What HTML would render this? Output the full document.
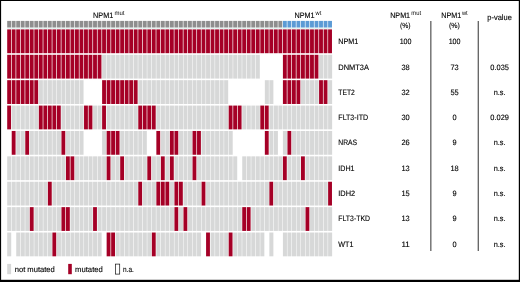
<!DOCTYPE html>
<html><head><meta charset="utf-8"><title>Mutation overview</title>
<style>html,body{margin:0;padding:0;background:#fff;overflow:hidden}body{width:520px;height:282px;position:relative}</style></head>
<body>
<svg width="520" height="282" viewBox="0 0 520 282" style="display:block;position:absolute;left:0;top:0">
<rect x="0" y="0" width="520" height="282" fill="#fff"/>
<defs><filter id="b" x="-1%" y="-1%" width="102%" height="102%"><feGaussianBlur stdDeviation="0.35 0.3"/></filter></defs>
<rect x="7.2" y="27.7" width="324.8" height="1.5" fill="#e4f4f0"/>
<g filter="url(#b)">
<rect x="7.20" y="20.9" width="3.85" height="6.6" fill="#8e8e8e"/>
<rect x="11.72" y="20.9" width="3.85" height="6.6" fill="#8e8e8e"/>
<rect x="16.24" y="20.9" width="3.85" height="6.6" fill="#8e8e8e"/>
<rect x="20.76" y="20.9" width="3.85" height="6.6" fill="#8e8e8e"/>
<rect x="25.28" y="20.9" width="3.85" height="6.6" fill="#8e8e8e"/>
<rect x="29.80" y="20.9" width="3.85" height="6.6" fill="#8e8e8e"/>
<rect x="34.32" y="20.9" width="3.85" height="6.6" fill="#8e8e8e"/>
<rect x="38.84" y="20.9" width="3.85" height="6.6" fill="#8e8e8e"/>
<rect x="43.36" y="20.9" width="3.85" height="6.6" fill="#8e8e8e"/>
<rect x="47.88" y="20.9" width="3.85" height="6.6" fill="#8e8e8e"/>
<rect x="52.40" y="20.9" width="3.85" height="6.6" fill="#8e8e8e"/>
<rect x="56.92" y="20.9" width="3.85" height="6.6" fill="#8e8e8e"/>
<rect x="61.44" y="20.9" width="3.85" height="6.6" fill="#8e8e8e"/>
<rect x="65.96" y="20.9" width="3.85" height="6.6" fill="#8e8e8e"/>
<rect x="70.48" y="20.9" width="3.85" height="6.6" fill="#8e8e8e"/>
<rect x="75.00" y="20.9" width="3.85" height="6.6" fill="#8e8e8e"/>
<rect x="79.52" y="20.9" width="3.85" height="6.6" fill="#8e8e8e"/>
<rect x="84.04" y="20.9" width="3.85" height="6.6" fill="#8e8e8e"/>
<rect x="88.56" y="20.9" width="3.85" height="6.6" fill="#8e8e8e"/>
<rect x="93.08" y="20.9" width="3.85" height="6.6" fill="#8e8e8e"/>
<rect x="97.60" y="20.9" width="3.85" height="6.6" fill="#8e8e8e"/>
<rect x="102.12" y="20.9" width="3.85" height="6.6" fill="#8e8e8e"/>
<rect x="106.64" y="20.9" width="3.85" height="6.6" fill="#8e8e8e"/>
<rect x="111.16" y="20.9" width="3.85" height="6.6" fill="#8e8e8e"/>
<rect x="115.68" y="20.9" width="3.85" height="6.6" fill="#8e8e8e"/>
<rect x="120.20" y="20.9" width="3.85" height="6.6" fill="#8e8e8e"/>
<rect x="124.72" y="20.9" width="3.85" height="6.6" fill="#8e8e8e"/>
<rect x="129.24" y="20.9" width="3.85" height="6.6" fill="#8e8e8e"/>
<rect x="133.76" y="20.9" width="3.85" height="6.6" fill="#8e8e8e"/>
<rect x="138.28" y="20.9" width="3.85" height="6.6" fill="#8e8e8e"/>
<rect x="142.80" y="20.9" width="3.85" height="6.6" fill="#8e8e8e"/>
<rect x="147.32" y="20.9" width="3.85" height="6.6" fill="#8e8e8e"/>
<rect x="151.84" y="20.9" width="3.85" height="6.6" fill="#8e8e8e"/>
<rect x="156.36" y="20.9" width="3.85" height="6.6" fill="#8e8e8e"/>
<rect x="160.88" y="20.9" width="3.85" height="6.6" fill="#8e8e8e"/>
<rect x="165.40" y="20.9" width="3.85" height="6.6" fill="#8e8e8e"/>
<rect x="169.92" y="20.9" width="3.85" height="6.6" fill="#8e8e8e"/>
<rect x="174.44" y="20.9" width="3.85" height="6.6" fill="#8e8e8e"/>
<rect x="178.96" y="20.9" width="3.85" height="6.6" fill="#8e8e8e"/>
<rect x="183.48" y="20.9" width="3.85" height="6.6" fill="#8e8e8e"/>
<rect x="188.00" y="20.9" width="3.85" height="6.6" fill="#8e8e8e"/>
<rect x="192.52" y="20.9" width="3.85" height="6.6" fill="#8e8e8e"/>
<rect x="197.04" y="20.9" width="3.85" height="6.6" fill="#8e8e8e"/>
<rect x="201.56" y="20.9" width="3.85" height="6.6" fill="#8e8e8e"/>
<rect x="206.08" y="20.9" width="3.85" height="6.6" fill="#8e8e8e"/>
<rect x="210.60" y="20.9" width="3.85" height="6.6" fill="#8e8e8e"/>
<rect x="215.12" y="20.9" width="3.85" height="6.6" fill="#8e8e8e"/>
<rect x="219.64" y="20.9" width="3.85" height="6.6" fill="#8e8e8e"/>
<rect x="224.16" y="20.9" width="3.85" height="6.6" fill="#8e8e8e"/>
<rect x="228.68" y="20.9" width="3.85" height="6.6" fill="#8e8e8e"/>
<rect x="233.20" y="20.9" width="3.85" height="6.6" fill="#8e8e8e"/>
<rect x="237.72" y="20.9" width="3.85" height="6.6" fill="#8e8e8e"/>
<rect x="242.24" y="20.9" width="3.85" height="6.6" fill="#8e8e8e"/>
<rect x="246.76" y="20.9" width="3.85" height="6.6" fill="#8e8e8e"/>
<rect x="251.28" y="20.9" width="3.85" height="6.6" fill="#8e8e8e"/>
<rect x="255.80" y="20.9" width="3.85" height="6.6" fill="#8e8e8e"/>
<rect x="260.32" y="20.9" width="3.85" height="6.6" fill="#8e8e8e"/>
<rect x="264.84" y="20.9" width="3.85" height="6.6" fill="#8e8e8e"/>
<rect x="269.36" y="20.9" width="3.85" height="6.6" fill="#8e8e8e"/>
<rect x="273.88" y="20.9" width="3.85" height="6.6" fill="#8e8e8e"/>
<rect x="278.40" y="20.9" width="3.85" height="6.6" fill="#8e8e8e"/>
<rect x="282.92" y="20.9" width="3.85" height="6.6" fill="#5b9bd5"/>
<rect x="287.44" y="20.9" width="3.85" height="6.6" fill="#5b9bd5"/>
<rect x="291.96" y="20.9" width="3.85" height="6.6" fill="#5b9bd5"/>
<rect x="296.48" y="20.9" width="3.85" height="6.6" fill="#5b9bd5"/>
<rect x="301.00" y="20.9" width="3.85" height="6.6" fill="#5b9bd5"/>
<rect x="305.52" y="20.9" width="3.85" height="6.6" fill="#5b9bd5"/>
<rect x="310.04" y="20.9" width="3.85" height="6.6" fill="#5b9bd5"/>
<rect x="314.56" y="20.9" width="3.85" height="6.6" fill="#5b9bd5"/>
<rect x="319.08" y="20.9" width="3.85" height="6.6" fill="#5b9bd5"/>
<rect x="323.60" y="20.9" width="3.85" height="6.6" fill="#5b9bd5"/>
<rect x="328.12" y="20.9" width="3.85" height="6.6" fill="#5b9bd5"/>
<rect x="7.20" y="29.40" width="3.85" height="23.8" fill="#a50026"/>
<rect x="11.72" y="29.40" width="3.85" height="23.8" fill="#a50026"/>
<rect x="16.24" y="29.40" width="3.85" height="23.8" fill="#a50026"/>
<rect x="20.76" y="29.40" width="3.85" height="23.8" fill="#a50026"/>
<rect x="25.28" y="29.40" width="3.85" height="23.8" fill="#a50026"/>
<rect x="29.80" y="29.40" width="3.85" height="23.8" fill="#a50026"/>
<rect x="34.32" y="29.40" width="3.85" height="23.8" fill="#a50026"/>
<rect x="38.84" y="29.40" width="3.85" height="23.8" fill="#a50026"/>
<rect x="43.36" y="29.40" width="3.85" height="23.8" fill="#a50026"/>
<rect x="47.88" y="29.40" width="3.85" height="23.8" fill="#a50026"/>
<rect x="52.40" y="29.40" width="3.85" height="23.8" fill="#a50026"/>
<rect x="56.92" y="29.40" width="3.85" height="23.8" fill="#a50026"/>
<rect x="61.44" y="29.40" width="3.85" height="23.8" fill="#a50026"/>
<rect x="65.96" y="29.40" width="3.85" height="23.8" fill="#a50026"/>
<rect x="70.48" y="29.40" width="3.85" height="23.8" fill="#a50026"/>
<rect x="75.00" y="29.40" width="3.85" height="23.8" fill="#a50026"/>
<rect x="79.52" y="29.40" width="3.85" height="23.8" fill="#a50026"/>
<rect x="84.04" y="29.40" width="3.85" height="23.8" fill="#a50026"/>
<rect x="88.56" y="29.40" width="3.85" height="23.8" fill="#a50026"/>
<rect x="93.08" y="29.40" width="3.85" height="23.8" fill="#a50026"/>
<rect x="97.60" y="29.40" width="3.85" height="23.8" fill="#a50026"/>
<rect x="102.12" y="29.40" width="3.85" height="23.8" fill="#a50026"/>
<rect x="106.64" y="29.40" width="3.85" height="23.8" fill="#a50026"/>
<rect x="111.16" y="29.40" width="3.85" height="23.8" fill="#a50026"/>
<rect x="115.68" y="29.40" width="3.85" height="23.8" fill="#a50026"/>
<rect x="120.20" y="29.40" width="3.85" height="23.8" fill="#a50026"/>
<rect x="124.72" y="29.40" width="3.85" height="23.8" fill="#a50026"/>
<rect x="129.24" y="29.40" width="3.85" height="23.8" fill="#a50026"/>
<rect x="133.76" y="29.40" width="3.85" height="23.8" fill="#a50026"/>
<rect x="138.28" y="29.40" width="3.85" height="23.8" fill="#a50026"/>
<rect x="142.80" y="29.40" width="3.85" height="23.8" fill="#a50026"/>
<rect x="147.32" y="29.40" width="3.85" height="23.8" fill="#a50026"/>
<rect x="151.84" y="29.40" width="3.85" height="23.8" fill="#a50026"/>
<rect x="156.36" y="29.40" width="3.85" height="23.8" fill="#a50026"/>
<rect x="160.88" y="29.40" width="3.85" height="23.8" fill="#a50026"/>
<rect x="165.40" y="29.40" width="3.85" height="23.8" fill="#a50026"/>
<rect x="169.92" y="29.40" width="3.85" height="23.8" fill="#a50026"/>
<rect x="174.44" y="29.40" width="3.85" height="23.8" fill="#a50026"/>
<rect x="178.96" y="29.40" width="3.85" height="23.8" fill="#a50026"/>
<rect x="183.48" y="29.40" width="3.85" height="23.8" fill="#a50026"/>
<rect x="188.00" y="29.40" width="3.85" height="23.8" fill="#a50026"/>
<rect x="192.52" y="29.40" width="3.85" height="23.8" fill="#a50026"/>
<rect x="197.04" y="29.40" width="3.85" height="23.8" fill="#a50026"/>
<rect x="201.56" y="29.40" width="3.85" height="23.8" fill="#a50026"/>
<rect x="206.08" y="29.40" width="3.85" height="23.8" fill="#a50026"/>
<rect x="210.60" y="29.40" width="3.85" height="23.8" fill="#a50026"/>
<rect x="215.12" y="29.40" width="3.85" height="23.8" fill="#a50026"/>
<rect x="219.64" y="29.40" width="3.85" height="23.8" fill="#a50026"/>
<rect x="224.16" y="29.40" width="3.85" height="23.8" fill="#a50026"/>
<rect x="228.68" y="29.40" width="3.85" height="23.8" fill="#a50026"/>
<rect x="233.20" y="29.40" width="3.85" height="23.8" fill="#a50026"/>
<rect x="237.72" y="29.40" width="3.85" height="23.8" fill="#a50026"/>
<rect x="242.24" y="29.40" width="3.85" height="23.8" fill="#a50026"/>
<rect x="246.76" y="29.40" width="3.85" height="23.8" fill="#a50026"/>
<rect x="251.28" y="29.40" width="3.85" height="23.8" fill="#a50026"/>
<rect x="255.80" y="29.40" width="3.85" height="23.8" fill="#a50026"/>
<rect x="260.32" y="29.40" width="3.85" height="23.8" fill="#a50026"/>
<rect x="264.84" y="29.40" width="3.85" height="23.8" fill="#a50026"/>
<rect x="269.36" y="29.40" width="3.85" height="23.8" fill="#a50026"/>
<rect x="273.88" y="29.40" width="3.85" height="23.8" fill="#a50026"/>
<rect x="278.40" y="29.40" width="3.85" height="23.8" fill="#a50026"/>
<rect x="282.92" y="29.40" width="3.85" height="23.8" fill="#a50026"/>
<rect x="287.44" y="29.40" width="3.85" height="23.8" fill="#a50026"/>
<rect x="291.96" y="29.40" width="3.85" height="23.8" fill="#a50026"/>
<rect x="296.48" y="29.40" width="3.85" height="23.8" fill="#a50026"/>
<rect x="301.00" y="29.40" width="3.85" height="23.8" fill="#a50026"/>
<rect x="305.52" y="29.40" width="3.85" height="23.8" fill="#a50026"/>
<rect x="310.04" y="29.40" width="3.85" height="23.8" fill="#a50026"/>
<rect x="314.56" y="29.40" width="3.85" height="23.8" fill="#a50026"/>
<rect x="319.08" y="29.40" width="3.85" height="23.8" fill="#a50026"/>
<rect x="323.60" y="29.40" width="3.85" height="23.8" fill="#a50026"/>
<rect x="328.12" y="29.40" width="3.85" height="23.8" fill="#a50026"/>
<rect x="7.20" y="54.79" width="3.85" height="23.8" fill="#a50026"/>
<rect x="11.72" y="54.79" width="3.85" height="23.8" fill="#a50026"/>
<rect x="16.24" y="54.79" width="3.85" height="23.8" fill="#a50026"/>
<rect x="20.76" y="54.79" width="3.85" height="23.8" fill="#a50026"/>
<rect x="25.28" y="54.79" width="3.85" height="23.8" fill="#a50026"/>
<rect x="29.80" y="54.79" width="3.85" height="23.8" fill="#a50026"/>
<rect x="34.32" y="54.79" width="3.85" height="23.8" fill="#a50026"/>
<rect x="38.84" y="54.79" width="3.85" height="23.8" fill="#a50026"/>
<rect x="43.36" y="54.79" width="3.85" height="23.8" fill="#a50026"/>
<rect x="47.88" y="54.79" width="3.85" height="23.8" fill="#a50026"/>
<rect x="52.40" y="54.79" width="3.85" height="23.8" fill="#a50026"/>
<rect x="56.92" y="54.79" width="3.85" height="23.8" fill="#a50026"/>
<rect x="61.44" y="54.79" width="3.85" height="23.8" fill="#a50026"/>
<rect x="65.96" y="54.79" width="3.85" height="23.8" fill="#a50026"/>
<rect x="70.48" y="54.79" width="3.85" height="23.8" fill="#a50026"/>
<rect x="75.00" y="54.79" width="3.85" height="23.8" fill="#a50026"/>
<rect x="79.52" y="54.79" width="3.85" height="23.8" fill="#a50026"/>
<rect x="84.04" y="54.79" width="3.85" height="23.8" fill="#a50026"/>
<rect x="88.56" y="54.79" width="3.85" height="23.8" fill="#a50026"/>
<rect x="93.08" y="54.79" width="3.85" height="23.8" fill="#a50026"/>
<rect x="97.60" y="54.79" width="3.85" height="23.8" fill="#a50026"/>
<rect x="102.12" y="54.79" width="4.02" height="23.8" fill="#d7d8d8"/>
<rect x="106.64" y="54.79" width="4.02" height="23.8" fill="#d7d8d8"/>
<rect x="111.16" y="54.79" width="4.02" height="23.8" fill="#d7d8d8"/>
<rect x="115.68" y="54.79" width="4.02" height="23.8" fill="#d7d8d8"/>
<rect x="120.20" y="54.79" width="4.02" height="23.8" fill="#d7d8d8"/>
<rect x="124.72" y="54.79" width="4.02" height="23.8" fill="#d7d8d8"/>
<rect x="129.24" y="54.79" width="4.02" height="23.8" fill="#d7d8d8"/>
<rect x="133.76" y="54.79" width="4.02" height="23.8" fill="#d7d8d8"/>
<rect x="138.28" y="54.79" width="4.02" height="23.8" fill="#d7d8d8"/>
<rect x="142.80" y="54.79" width="4.02" height="23.8" fill="#d7d8d8"/>
<rect x="147.32" y="54.79" width="4.02" height="23.8" fill="#d7d8d8"/>
<rect x="151.84" y="54.79" width="4.02" height="23.8" fill="#d7d8d8"/>
<rect x="156.36" y="54.79" width="4.02" height="23.8" fill="#d7d8d8"/>
<rect x="160.88" y="54.79" width="4.02" height="23.8" fill="#d7d8d8"/>
<rect x="165.40" y="54.79" width="4.02" height="23.8" fill="#d7d8d8"/>
<rect x="169.92" y="54.79" width="4.02" height="23.8" fill="#d7d8d8"/>
<rect x="174.44" y="54.79" width="4.02" height="23.8" fill="#d7d8d8"/>
<rect x="178.96" y="54.79" width="4.02" height="23.8" fill="#d7d8d8"/>
<rect x="183.48" y="54.79" width="4.02" height="23.8" fill="#d7d8d8"/>
<rect x="188.00" y="54.79" width="4.02" height="23.8" fill="#d7d8d8"/>
<rect x="192.52" y="54.79" width="4.02" height="23.8" fill="#d7d8d8"/>
<rect x="197.04" y="54.79" width="4.02" height="23.8" fill="#d7d8d8"/>
<rect x="201.56" y="54.79" width="4.02" height="23.8" fill="#d7d8d8"/>
<rect x="206.08" y="54.79" width="4.02" height="23.8" fill="#d7d8d8"/>
<rect x="210.60" y="54.79" width="4.02" height="23.8" fill="#d7d8d8"/>
<rect x="215.12" y="54.79" width="4.02" height="23.8" fill="#d7d8d8"/>
<rect x="219.64" y="54.79" width="4.02" height="23.8" fill="#d7d8d8"/>
<rect x="224.16" y="54.79" width="4.02" height="23.8" fill="#d7d8d8"/>
<rect x="228.68" y="54.79" width="4.02" height="23.8" fill="#d7d8d8"/>
<rect x="233.20" y="54.79" width="4.02" height="23.8" fill="#d7d8d8"/>
<rect x="237.72" y="54.79" width="4.02" height="23.8" fill="#d7d8d8"/>
<rect x="242.24" y="54.79" width="4.02" height="23.8" fill="#d7d8d8"/>
<rect x="246.76" y="54.79" width="4.02" height="23.8" fill="#d7d8d8"/>
<rect x="251.28" y="54.79" width="4.02" height="23.8" fill="#d7d8d8"/>
<rect x="255.80" y="54.79" width="4.02" height="23.8" fill="#d7d8d8"/>
<rect x="282.92" y="54.79" width="3.85" height="23.8" fill="#a50026"/>
<rect x="287.44" y="54.79" width="3.85" height="23.8" fill="#a50026"/>
<rect x="291.96" y="54.79" width="3.85" height="23.8" fill="#a50026"/>
<rect x="296.48" y="54.79" width="3.85" height="23.8" fill="#a50026"/>
<rect x="301.00" y="54.79" width="3.85" height="23.8" fill="#a50026"/>
<rect x="305.52" y="54.79" width="3.85" height="23.8" fill="#a50026"/>
<rect x="310.04" y="54.79" width="3.85" height="23.8" fill="#a50026"/>
<rect x="314.56" y="54.79" width="3.85" height="23.8" fill="#a50026"/>
<rect x="319.08" y="54.79" width="4.02" height="23.8" fill="#d7d8d8"/>
<rect x="323.60" y="54.79" width="4.02" height="23.8" fill="#d7d8d8"/>
<rect x="328.12" y="54.79" width="4.02" height="23.8" fill="#d7d8d8"/>
<rect x="7.20" y="80.18" width="3.85" height="23.8" fill="#a50026"/>
<rect x="11.72" y="80.18" width="3.85" height="23.8" fill="#a50026"/>
<rect x="16.24" y="80.18" width="3.85" height="23.8" fill="#a50026"/>
<rect x="20.76" y="80.18" width="3.85" height="23.8" fill="#a50026"/>
<rect x="25.28" y="80.18" width="3.85" height="23.8" fill="#a50026"/>
<rect x="29.80" y="80.18" width="3.85" height="23.8" fill="#a50026"/>
<rect x="34.32" y="80.18" width="3.85" height="23.8" fill="#a50026"/>
<rect x="38.84" y="80.18" width="4.02" height="23.8" fill="#d7d8d8"/>
<rect x="43.36" y="80.18" width="4.02" height="23.8" fill="#d7d8d8"/>
<rect x="47.88" y="80.18" width="4.02" height="23.8" fill="#d7d8d8"/>
<rect x="52.40" y="80.18" width="4.02" height="23.8" fill="#d7d8d8"/>
<rect x="56.92" y="80.18" width="4.02" height="23.8" fill="#d7d8d8"/>
<rect x="61.44" y="80.18" width="4.02" height="23.8" fill="#d7d8d8"/>
<rect x="65.96" y="80.18" width="4.02" height="23.8" fill="#d7d8d8"/>
<rect x="70.48" y="80.18" width="4.02" height="23.8" fill="#d7d8d8"/>
<rect x="75.00" y="80.18" width="4.02" height="23.8" fill="#d7d8d8"/>
<rect x="79.52" y="80.18" width="4.02" height="23.8" fill="#d7d8d8"/>
<rect x="102.12" y="80.18" width="3.85" height="23.8" fill="#a50026"/>
<rect x="106.64" y="80.18" width="3.85" height="23.8" fill="#a50026"/>
<rect x="111.16" y="80.18" width="3.85" height="23.8" fill="#a50026"/>
<rect x="115.68" y="80.18" width="3.85" height="23.8" fill="#a50026"/>
<rect x="120.20" y="80.18" width="3.85" height="23.8" fill="#a50026"/>
<rect x="124.72" y="80.18" width="3.85" height="23.8" fill="#a50026"/>
<rect x="129.24" y="80.18" width="3.85" height="23.8" fill="#a50026"/>
<rect x="133.76" y="80.18" width="3.85" height="23.8" fill="#a50026"/>
<rect x="138.28" y="80.18" width="4.02" height="23.8" fill="#d7d8d8"/>
<rect x="142.80" y="80.18" width="4.02" height="23.8" fill="#d7d8d8"/>
<rect x="147.32" y="80.18" width="4.02" height="23.8" fill="#d7d8d8"/>
<rect x="151.84" y="80.18" width="4.02" height="23.8" fill="#d7d8d8"/>
<rect x="156.36" y="80.18" width="4.02" height="23.8" fill="#d7d8d8"/>
<rect x="160.88" y="80.18" width="4.02" height="23.8" fill="#d7d8d8"/>
<rect x="165.40" y="80.18" width="4.02" height="23.8" fill="#d7d8d8"/>
<rect x="169.92" y="80.18" width="4.02" height="23.8" fill="#d7d8d8"/>
<rect x="174.44" y="80.18" width="4.02" height="23.8" fill="#d7d8d8"/>
<rect x="178.96" y="80.18" width="4.02" height="23.8" fill="#d7d8d8"/>
<rect x="183.48" y="80.18" width="4.02" height="23.8" fill="#d7d8d8"/>
<rect x="188.00" y="80.18" width="4.02" height="23.8" fill="#d7d8d8"/>
<rect x="192.52" y="80.18" width="4.02" height="23.8" fill="#d7d8d8"/>
<rect x="197.04" y="80.18" width="4.02" height="23.8" fill="#d7d8d8"/>
<rect x="201.56" y="80.18" width="4.02" height="23.8" fill="#d7d8d8"/>
<rect x="206.08" y="80.18" width="4.02" height="23.8" fill="#d7d8d8"/>
<rect x="210.60" y="80.18" width="4.02" height="23.8" fill="#d7d8d8"/>
<rect x="215.12" y="80.18" width="4.02" height="23.8" fill="#d7d8d8"/>
<rect x="219.64" y="80.18" width="4.02" height="23.8" fill="#d7d8d8"/>
<rect x="224.16" y="80.18" width="4.02" height="23.8" fill="#d7d8d8"/>
<rect x="264.84" y="80.18" width="4.02" height="23.8" fill="#d7d8d8"/>
<rect x="269.36" y="80.18" width="4.02" height="23.8" fill="#d7d8d8"/>
<rect x="282.92" y="80.18" width="3.85" height="23.8" fill="#a50026"/>
<rect x="287.44" y="80.18" width="3.85" height="23.8" fill="#a50026"/>
<rect x="291.96" y="80.18" width="3.85" height="23.8" fill="#a50026"/>
<rect x="296.48" y="80.18" width="3.85" height="23.8" fill="#a50026"/>
<rect x="301.00" y="80.18" width="4.02" height="23.8" fill="#d7d8d8"/>
<rect x="305.52" y="80.18" width="4.02" height="23.8" fill="#d7d8d8"/>
<rect x="310.04" y="80.18" width="4.02" height="23.8" fill="#d7d8d8"/>
<rect x="314.56" y="80.18" width="4.02" height="23.8" fill="#d7d8d8"/>
<rect x="319.08" y="80.18" width="3.85" height="23.8" fill="#a50026"/>
<rect x="323.60" y="80.18" width="3.85" height="23.8" fill="#a50026"/>
<rect x="328.12" y="80.18" width="4.02" height="23.8" fill="#d7d8d8"/>
<rect x="7.20" y="105.57" width="3.85" height="23.8" fill="#a50026"/>
<rect x="11.72" y="105.57" width="4.02" height="23.8" fill="#d7d8d8"/>
<rect x="16.24" y="105.57" width="4.02" height="23.8" fill="#d7d8d8"/>
<rect x="20.76" y="105.57" width="4.02" height="23.8" fill="#d7d8d8"/>
<rect x="25.28" y="105.57" width="4.02" height="23.8" fill="#d7d8d8"/>
<rect x="29.80" y="105.57" width="4.02" height="23.8" fill="#d7d8d8"/>
<rect x="34.32" y="105.57" width="4.02" height="23.8" fill="#d7d8d8"/>
<rect x="38.84" y="105.57" width="3.85" height="23.8" fill="#a50026"/>
<rect x="43.36" y="105.57" width="3.85" height="23.8" fill="#a50026"/>
<rect x="47.88" y="105.57" width="3.85" height="23.8" fill="#a50026"/>
<rect x="52.40" y="105.57" width="3.85" height="23.8" fill="#a50026"/>
<rect x="56.92" y="105.57" width="3.85" height="23.8" fill="#a50026"/>
<rect x="61.44" y="105.57" width="4.02" height="23.8" fill="#d7d8d8"/>
<rect x="65.96" y="105.57" width="4.02" height="23.8" fill="#d7d8d8"/>
<rect x="70.48" y="105.57" width="4.02" height="23.8" fill="#d7d8d8"/>
<rect x="75.00" y="105.57" width="4.02" height="23.8" fill="#d7d8d8"/>
<rect x="79.52" y="105.57" width="4.02" height="23.8" fill="#d7d8d8"/>
<rect x="84.04" y="105.57" width="3.85" height="23.8" fill="#a50026"/>
<rect x="88.56" y="105.57" width="3.85" height="23.8" fill="#a50026"/>
<rect x="93.08" y="105.57" width="4.02" height="23.8" fill="#d7d8d8"/>
<rect x="97.60" y="105.57" width="4.02" height="23.8" fill="#d7d8d8"/>
<rect x="102.12" y="105.57" width="3.85" height="23.8" fill="#a50026"/>
<rect x="106.64" y="105.57" width="4.02" height="23.8" fill="#d7d8d8"/>
<rect x="111.16" y="105.57" width="4.02" height="23.8" fill="#d7d8d8"/>
<rect x="115.68" y="105.57" width="4.02" height="23.8" fill="#d7d8d8"/>
<rect x="120.20" y="105.57" width="4.02" height="23.8" fill="#d7d8d8"/>
<rect x="124.72" y="105.57" width="4.02" height="23.8" fill="#d7d8d8"/>
<rect x="129.24" y="105.57" width="4.02" height="23.8" fill="#d7d8d8"/>
<rect x="133.76" y="105.57" width="4.02" height="23.8" fill="#d7d8d8"/>
<rect x="138.28" y="105.57" width="3.85" height="23.8" fill="#a50026"/>
<rect x="142.80" y="105.57" width="3.85" height="23.8" fill="#a50026"/>
<rect x="147.32" y="105.57" width="3.85" height="23.8" fill="#a50026"/>
<rect x="151.84" y="105.57" width="3.85" height="23.8" fill="#a50026"/>
<rect x="156.36" y="105.57" width="4.02" height="23.8" fill="#d7d8d8"/>
<rect x="160.88" y="105.57" width="4.02" height="23.8" fill="#d7d8d8"/>
<rect x="165.40" y="105.57" width="4.02" height="23.8" fill="#d7d8d8"/>
<rect x="169.92" y="105.57" width="4.02" height="23.8" fill="#d7d8d8"/>
<rect x="174.44" y="105.57" width="4.02" height="23.8" fill="#d7d8d8"/>
<rect x="178.96" y="105.57" width="4.02" height="23.8" fill="#d7d8d8"/>
<rect x="183.48" y="105.57" width="4.02" height="23.8" fill="#d7d8d8"/>
<rect x="188.00" y="105.57" width="4.02" height="23.8" fill="#d7d8d8"/>
<rect x="192.52" y="105.57" width="4.02" height="23.8" fill="#d7d8d8"/>
<rect x="197.04" y="105.57" width="4.02" height="23.8" fill="#d7d8d8"/>
<rect x="201.56" y="105.57" width="4.02" height="23.8" fill="#d7d8d8"/>
<rect x="206.08" y="105.57" width="4.02" height="23.8" fill="#d7d8d8"/>
<rect x="210.60" y="105.57" width="4.02" height="23.8" fill="#d7d8d8"/>
<rect x="215.12" y="105.57" width="4.02" height="23.8" fill="#d7d8d8"/>
<rect x="219.64" y="105.57" width="4.02" height="23.8" fill="#d7d8d8"/>
<rect x="224.16" y="105.57" width="4.02" height="23.8" fill="#d7d8d8"/>
<rect x="228.68" y="105.57" width="3.85" height="23.8" fill="#a50026"/>
<rect x="233.20" y="105.57" width="3.85" height="23.8" fill="#a50026"/>
<rect x="237.72" y="105.57" width="3.85" height="23.8" fill="#a50026"/>
<rect x="242.24" y="105.57" width="4.02" height="23.8" fill="#d7d8d8"/>
<rect x="246.76" y="105.57" width="4.02" height="23.8" fill="#d7d8d8"/>
<rect x="251.28" y="105.57" width="4.02" height="23.8" fill="#d7d8d8"/>
<rect x="255.80" y="105.57" width="4.02" height="23.8" fill="#d7d8d8"/>
<rect x="260.32" y="105.57" width="3.85" height="23.8" fill="#a50026"/>
<rect x="264.84" y="105.57" width="3.85" height="23.8" fill="#a50026"/>
<rect x="269.36" y="105.57" width="4.02" height="23.8" fill="#d7d8d8"/>
<rect x="273.88" y="105.57" width="4.02" height="23.8" fill="#d7d8d8"/>
<rect x="278.40" y="105.57" width="4.02" height="23.8" fill="#d7d8d8"/>
<rect x="282.92" y="105.57" width="4.02" height="23.8" fill="#d7d8d8"/>
<rect x="287.44" y="105.57" width="4.02" height="23.8" fill="#d7d8d8"/>
<rect x="291.96" y="105.57" width="4.02" height="23.8" fill="#d7d8d8"/>
<rect x="296.48" y="105.57" width="4.02" height="23.8" fill="#d7d8d8"/>
<rect x="301.00" y="105.57" width="4.02" height="23.8" fill="#d7d8d8"/>
<rect x="305.52" y="105.57" width="4.02" height="23.8" fill="#d7d8d8"/>
<rect x="310.04" y="105.57" width="4.02" height="23.8" fill="#d7d8d8"/>
<rect x="314.56" y="105.57" width="4.02" height="23.8" fill="#d7d8d8"/>
<rect x="319.08" y="105.57" width="4.02" height="23.8" fill="#d7d8d8"/>
<rect x="323.60" y="105.57" width="4.02" height="23.8" fill="#d7d8d8"/>
<rect x="328.12" y="105.57" width="4.02" height="23.8" fill="#d7d8d8"/>
<rect x="11.72" y="130.96" width="3.85" height="23.8" fill="#a50026"/>
<rect x="16.24" y="130.96" width="4.02" height="23.8" fill="#d7d8d8"/>
<rect x="20.76" y="130.96" width="4.02" height="23.8" fill="#d7d8d8"/>
<rect x="25.28" y="130.96" width="3.85" height="23.8" fill="#a50026"/>
<rect x="29.80" y="130.96" width="4.02" height="23.8" fill="#d7d8d8"/>
<rect x="34.32" y="130.96" width="4.02" height="23.8" fill="#d7d8d8"/>
<rect x="38.84" y="130.96" width="4.02" height="23.8" fill="#d7d8d8"/>
<rect x="43.36" y="130.96" width="4.02" height="23.8" fill="#d7d8d8"/>
<rect x="47.88" y="130.96" width="4.02" height="23.8" fill="#d7d8d8"/>
<rect x="52.40" y="130.96" width="4.02" height="23.8" fill="#d7d8d8"/>
<rect x="56.92" y="130.96" width="4.02" height="23.8" fill="#d7d8d8"/>
<rect x="61.44" y="130.96" width="3.85" height="23.8" fill="#a50026"/>
<rect x="65.96" y="130.96" width="4.02" height="23.8" fill="#d7d8d8"/>
<rect x="70.48" y="130.96" width="4.02" height="23.8" fill="#d7d8d8"/>
<rect x="75.00" y="130.96" width="4.02" height="23.8" fill="#d7d8d8"/>
<rect x="79.52" y="130.96" width="4.02" height="23.8" fill="#d7d8d8"/>
<rect x="102.12" y="130.96" width="4.02" height="23.8" fill="#d7d8d8"/>
<rect x="106.64" y="130.96" width="3.85" height="23.8" fill="#a50026"/>
<rect x="111.16" y="130.96" width="3.85" height="23.8" fill="#a50026"/>
<rect x="115.68" y="130.96" width="3.85" height="23.8" fill="#a50026"/>
<rect x="120.20" y="130.96" width="4.02" height="23.8" fill="#d7d8d8"/>
<rect x="124.72" y="130.96" width="4.02" height="23.8" fill="#d7d8d8"/>
<rect x="129.24" y="130.96" width="4.02" height="23.8" fill="#d7d8d8"/>
<rect x="133.76" y="130.96" width="4.02" height="23.8" fill="#d7d8d8"/>
<rect x="138.28" y="130.96" width="4.02" height="23.8" fill="#d7d8d8"/>
<rect x="142.80" y="130.96" width="4.02" height="23.8" fill="#d7d8d8"/>
<rect x="156.36" y="130.96" width="3.85" height="23.8" fill="#a50026"/>
<rect x="160.88" y="130.96" width="4.02" height="23.8" fill="#d7d8d8"/>
<rect x="165.40" y="130.96" width="4.02" height="23.8" fill="#d7d8d8"/>
<rect x="169.92" y="130.96" width="3.85" height="23.8" fill="#a50026"/>
<rect x="174.44" y="130.96" width="3.85" height="23.8" fill="#a50026"/>
<rect x="178.96" y="130.96" width="4.02" height="23.8" fill="#d7d8d8"/>
<rect x="183.48" y="130.96" width="4.02" height="23.8" fill="#d7d8d8"/>
<rect x="188.00" y="130.96" width="4.02" height="23.8" fill="#d7d8d8"/>
<rect x="192.52" y="130.96" width="3.85" height="23.8" fill="#a50026"/>
<rect x="197.04" y="130.96" width="3.85" height="23.8" fill="#a50026"/>
<rect x="201.56" y="130.96" width="4.02" height="23.8" fill="#d7d8d8"/>
<rect x="206.08" y="130.96" width="4.02" height="23.8" fill="#d7d8d8"/>
<rect x="210.60" y="130.96" width="4.02" height="23.8" fill="#d7d8d8"/>
<rect x="215.12" y="130.96" width="4.02" height="23.8" fill="#d7d8d8"/>
<rect x="219.64" y="130.96" width="4.02" height="23.8" fill="#d7d8d8"/>
<rect x="224.16" y="130.96" width="4.02" height="23.8" fill="#d7d8d8"/>
<rect x="228.68" y="130.96" width="4.02" height="23.8" fill="#d7d8d8"/>
<rect x="264.84" y="130.96" width="3.85" height="23.8" fill="#a50026"/>
<rect x="269.36" y="130.96" width="4.02" height="23.8" fill="#d7d8d8"/>
<rect x="273.88" y="130.96" width="4.02" height="23.8" fill="#d7d8d8"/>
<rect x="282.92" y="130.96" width="4.02" height="23.8" fill="#d7d8d8"/>
<rect x="287.44" y="130.96" width="3.85" height="23.8" fill="#a50026"/>
<rect x="291.96" y="130.96" width="4.02" height="23.8" fill="#d7d8d8"/>
<rect x="296.48" y="130.96" width="4.02" height="23.8" fill="#d7d8d8"/>
<rect x="301.00" y="130.96" width="4.02" height="23.8" fill="#d7d8d8"/>
<rect x="305.52" y="130.96" width="4.02" height="23.8" fill="#d7d8d8"/>
<rect x="310.04" y="130.96" width="4.02" height="23.8" fill="#d7d8d8"/>
<rect x="314.56" y="130.96" width="4.02" height="23.8" fill="#d7d8d8"/>
<rect x="319.08" y="130.96" width="4.02" height="23.8" fill="#d7d8d8"/>
<rect x="323.60" y="130.96" width="4.02" height="23.8" fill="#d7d8d8"/>
<rect x="328.12" y="130.96" width="4.02" height="23.8" fill="#d7d8d8"/>
<rect x="7.20" y="156.35" width="4.02" height="23.8" fill="#d7d8d8"/>
<rect x="11.72" y="156.35" width="4.02" height="23.8" fill="#d7d8d8"/>
<rect x="16.24" y="156.35" width="4.02" height="23.8" fill="#d7d8d8"/>
<rect x="20.76" y="156.35" width="4.02" height="23.8" fill="#d7d8d8"/>
<rect x="25.28" y="156.35" width="4.02" height="23.8" fill="#d7d8d8"/>
<rect x="29.80" y="156.35" width="4.02" height="23.8" fill="#d7d8d8"/>
<rect x="34.32" y="156.35" width="4.02" height="23.8" fill="#d7d8d8"/>
<rect x="38.84" y="156.35" width="4.02" height="23.8" fill="#d7d8d8"/>
<rect x="43.36" y="156.35" width="4.02" height="23.8" fill="#d7d8d8"/>
<rect x="47.88" y="156.35" width="4.02" height="23.8" fill="#d7d8d8"/>
<rect x="52.40" y="156.35" width="4.02" height="23.8" fill="#d7d8d8"/>
<rect x="56.92" y="156.35" width="4.02" height="23.8" fill="#d7d8d8"/>
<rect x="61.44" y="156.35" width="4.02" height="23.8" fill="#d7d8d8"/>
<rect x="65.96" y="156.35" width="3.85" height="23.8" fill="#a50026"/>
<rect x="70.48" y="156.35" width="3.85" height="23.8" fill="#a50026"/>
<rect x="75.00" y="156.35" width="4.02" height="23.8" fill="#d7d8d8"/>
<rect x="79.52" y="156.35" width="4.02" height="23.8" fill="#d7d8d8"/>
<rect x="84.04" y="156.35" width="4.02" height="23.8" fill="#d7d8d8"/>
<rect x="88.56" y="156.35" width="4.02" height="23.8" fill="#d7d8d8"/>
<rect x="93.08" y="156.35" width="4.02" height="23.8" fill="#d7d8d8"/>
<rect x="97.60" y="156.35" width="4.02" height="23.8" fill="#d7d8d8"/>
<rect x="102.12" y="156.35" width="4.02" height="23.8" fill="#d7d8d8"/>
<rect x="106.64" y="156.35" width="3.85" height="23.8" fill="#a50026"/>
<rect x="111.16" y="156.35" width="4.02" height="23.8" fill="#d7d8d8"/>
<rect x="115.68" y="156.35" width="4.02" height="23.8" fill="#d7d8d8"/>
<rect x="120.20" y="156.35" width="3.85" height="23.8" fill="#a50026"/>
<rect x="124.72" y="156.35" width="4.02" height="23.8" fill="#d7d8d8"/>
<rect x="129.24" y="156.35" width="4.02" height="23.8" fill="#d7d8d8"/>
<rect x="133.76" y="156.35" width="4.02" height="23.8" fill="#d7d8d8"/>
<rect x="138.28" y="156.35" width="4.02" height="23.8" fill="#d7d8d8"/>
<rect x="142.80" y="156.35" width="4.02" height="23.8" fill="#d7d8d8"/>
<rect x="147.32" y="156.35" width="3.85" height="23.8" fill="#a50026"/>
<rect x="151.84" y="156.35" width="4.02" height="23.8" fill="#d7d8d8"/>
<rect x="156.36" y="156.35" width="4.02" height="23.8" fill="#d7d8d8"/>
<rect x="160.88" y="156.35" width="3.85" height="23.8" fill="#a50026"/>
<rect x="165.40" y="156.35" width="4.02" height="23.8" fill="#d7d8d8"/>
<rect x="169.92" y="156.35" width="3.85" height="23.8" fill="#a50026"/>
<rect x="174.44" y="156.35" width="4.02" height="23.8" fill="#d7d8d8"/>
<rect x="178.96" y="156.35" width="4.02" height="23.8" fill="#d7d8d8"/>
<rect x="183.48" y="156.35" width="4.02" height="23.8" fill="#d7d8d8"/>
<rect x="188.00" y="156.35" width="4.02" height="23.8" fill="#d7d8d8"/>
<rect x="192.52" y="156.35" width="3.85" height="23.8" fill="#a50026"/>
<rect x="197.04" y="156.35" width="4.02" height="23.8" fill="#d7d8d8"/>
<rect x="201.56" y="156.35" width="4.02" height="23.8" fill="#d7d8d8"/>
<rect x="206.08" y="156.35" width="4.02" height="23.8" fill="#d7d8d8"/>
<rect x="210.60" y="156.35" width="4.02" height="23.8" fill="#d7d8d8"/>
<rect x="215.12" y="156.35" width="4.02" height="23.8" fill="#d7d8d8"/>
<rect x="219.64" y="156.35" width="4.02" height="23.8" fill="#d7d8d8"/>
<rect x="224.16" y="156.35" width="4.02" height="23.8" fill="#d7d8d8"/>
<rect x="228.68" y="156.35" width="4.02" height="23.8" fill="#d7d8d8"/>
<rect x="233.20" y="156.35" width="4.02" height="23.8" fill="#d7d8d8"/>
<rect x="242.24" y="156.35" width="4.02" height="23.8" fill="#d7d8d8"/>
<rect x="246.76" y="156.35" width="4.02" height="23.8" fill="#d7d8d8"/>
<rect x="251.28" y="156.35" width="4.02" height="23.8" fill="#d7d8d8"/>
<rect x="255.80" y="156.35" width="4.02" height="23.8" fill="#d7d8d8"/>
<rect x="260.32" y="156.35" width="4.02" height="23.8" fill="#d7d8d8"/>
<rect x="264.84" y="156.35" width="4.02" height="23.8" fill="#d7d8d8"/>
<rect x="269.36" y="156.35" width="4.02" height="23.8" fill="#d7d8d8"/>
<rect x="273.88" y="156.35" width="4.02" height="23.8" fill="#d7d8d8"/>
<rect x="278.40" y="156.35" width="4.02" height="23.8" fill="#d7d8d8"/>
<rect x="282.92" y="156.35" width="3.85" height="23.8" fill="#a50026"/>
<rect x="287.44" y="156.35" width="4.02" height="23.8" fill="#d7d8d8"/>
<rect x="291.96" y="156.35" width="4.02" height="23.8" fill="#d7d8d8"/>
<rect x="296.48" y="156.35" width="4.02" height="23.8" fill="#d7d8d8"/>
<rect x="301.00" y="156.35" width="3.85" height="23.8" fill="#a50026"/>
<rect x="305.52" y="156.35" width="4.02" height="23.8" fill="#d7d8d8"/>
<rect x="310.04" y="156.35" width="4.02" height="23.8" fill="#d7d8d8"/>
<rect x="314.56" y="156.35" width="4.02" height="23.8" fill="#d7d8d8"/>
<rect x="319.08" y="156.35" width="4.02" height="23.8" fill="#d7d8d8"/>
<rect x="323.60" y="156.35" width="4.02" height="23.8" fill="#d7d8d8"/>
<rect x="328.12" y="156.35" width="4.02" height="23.8" fill="#d7d8d8"/>
<rect x="7.20" y="181.74" width="4.02" height="23.8" fill="#d7d8d8"/>
<rect x="11.72" y="181.74" width="4.02" height="23.8" fill="#d7d8d8"/>
<rect x="16.24" y="181.74" width="4.02" height="23.8" fill="#d7d8d8"/>
<rect x="20.76" y="181.74" width="4.02" height="23.8" fill="#d7d8d8"/>
<rect x="25.28" y="181.74" width="4.02" height="23.8" fill="#d7d8d8"/>
<rect x="29.80" y="181.74" width="4.02" height="23.8" fill="#d7d8d8"/>
<rect x="34.32" y="181.74" width="4.02" height="23.8" fill="#d7d8d8"/>
<rect x="38.84" y="181.74" width="4.02" height="23.8" fill="#d7d8d8"/>
<rect x="43.36" y="181.74" width="4.02" height="23.8" fill="#d7d8d8"/>
<rect x="47.88" y="181.74" width="3.85" height="23.8" fill="#a50026"/>
<rect x="52.40" y="181.74" width="4.02" height="23.8" fill="#d7d8d8"/>
<rect x="56.92" y="181.74" width="4.02" height="23.8" fill="#d7d8d8"/>
<rect x="61.44" y="181.74" width="4.02" height="23.8" fill="#d7d8d8"/>
<rect x="65.96" y="181.74" width="4.02" height="23.8" fill="#d7d8d8"/>
<rect x="70.48" y="181.74" width="4.02" height="23.8" fill="#d7d8d8"/>
<rect x="75.00" y="181.74" width="4.02" height="23.8" fill="#d7d8d8"/>
<rect x="79.52" y="181.74" width="4.02" height="23.8" fill="#d7d8d8"/>
<rect x="84.04" y="181.74" width="4.02" height="23.8" fill="#d7d8d8"/>
<rect x="88.56" y="181.74" width="4.02" height="23.8" fill="#d7d8d8"/>
<rect x="93.08" y="181.74" width="4.02" height="23.8" fill="#d7d8d8"/>
<rect x="97.60" y="181.74" width="4.02" height="23.8" fill="#d7d8d8"/>
<rect x="102.12" y="181.74" width="4.02" height="23.8" fill="#d7d8d8"/>
<rect x="106.64" y="181.74" width="4.02" height="23.8" fill="#d7d8d8"/>
<rect x="111.16" y="181.74" width="4.02" height="23.8" fill="#d7d8d8"/>
<rect x="115.68" y="181.74" width="4.02" height="23.8" fill="#d7d8d8"/>
<rect x="120.20" y="181.74" width="4.02" height="23.8" fill="#d7d8d8"/>
<rect x="124.72" y="181.74" width="4.02" height="23.8" fill="#d7d8d8"/>
<rect x="129.24" y="181.74" width="4.02" height="23.8" fill="#d7d8d8"/>
<rect x="133.76" y="181.74" width="4.02" height="23.8" fill="#d7d8d8"/>
<rect x="138.28" y="181.74" width="3.85" height="23.8" fill="#a50026"/>
<rect x="142.80" y="181.74" width="4.02" height="23.8" fill="#d7d8d8"/>
<rect x="147.32" y="181.74" width="4.02" height="23.8" fill="#d7d8d8"/>
<rect x="151.84" y="181.74" width="4.02" height="23.8" fill="#d7d8d8"/>
<rect x="156.36" y="181.74" width="3.85" height="23.8" fill="#a50026"/>
<rect x="160.88" y="181.74" width="3.85" height="23.8" fill="#a50026"/>
<rect x="165.40" y="181.74" width="3.85" height="23.8" fill="#a50026"/>
<rect x="169.92" y="181.74" width="4.02" height="23.8" fill="#d7d8d8"/>
<rect x="174.44" y="181.74" width="3.85" height="23.8" fill="#a50026"/>
<rect x="178.96" y="181.74" width="3.85" height="23.8" fill="#a50026"/>
<rect x="183.48" y="181.74" width="4.02" height="23.8" fill="#d7d8d8"/>
<rect x="188.00" y="181.74" width="4.02" height="23.8" fill="#d7d8d8"/>
<rect x="192.52" y="181.74" width="4.02" height="23.8" fill="#d7d8d8"/>
<rect x="197.04" y="181.74" width="4.02" height="23.8" fill="#d7d8d8"/>
<rect x="201.56" y="181.74" width="3.85" height="23.8" fill="#a50026"/>
<rect x="206.08" y="181.74" width="4.02" height="23.8" fill="#d7d8d8"/>
<rect x="210.60" y="181.74" width="4.02" height="23.8" fill="#d7d8d8"/>
<rect x="215.12" y="181.74" width="4.02" height="23.8" fill="#d7d8d8"/>
<rect x="219.64" y="181.74" width="4.02" height="23.8" fill="#d7d8d8"/>
<rect x="224.16" y="181.74" width="4.02" height="23.8" fill="#d7d8d8"/>
<rect x="228.68" y="181.74" width="4.02" height="23.8" fill="#d7d8d8"/>
<rect x="233.20" y="181.74" width="4.02" height="23.8" fill="#d7d8d8"/>
<rect x="237.72" y="181.74" width="4.02" height="23.8" fill="#d7d8d8"/>
<rect x="242.24" y="181.74" width="4.02" height="23.8" fill="#d7d8d8"/>
<rect x="246.76" y="181.74" width="4.02" height="23.8" fill="#d7d8d8"/>
<rect x="251.28" y="181.74" width="4.02" height="23.8" fill="#d7d8d8"/>
<rect x="255.80" y="181.74" width="4.02" height="23.8" fill="#d7d8d8"/>
<rect x="260.32" y="181.74" width="4.02" height="23.8" fill="#d7d8d8"/>
<rect x="264.84" y="181.74" width="4.02" height="23.8" fill="#d7d8d8"/>
<rect x="269.36" y="181.74" width="3.85" height="23.8" fill="#a50026"/>
<rect x="273.88" y="181.74" width="4.02" height="23.8" fill="#d7d8d8"/>
<rect x="278.40" y="181.74" width="4.02" height="23.8" fill="#d7d8d8"/>
<rect x="282.92" y="181.74" width="4.02" height="23.8" fill="#d7d8d8"/>
<rect x="287.44" y="181.74" width="4.02" height="23.8" fill="#d7d8d8"/>
<rect x="291.96" y="181.74" width="4.02" height="23.8" fill="#d7d8d8"/>
<rect x="296.48" y="181.74" width="4.02" height="23.8" fill="#d7d8d8"/>
<rect x="301.00" y="181.74" width="4.02" height="23.8" fill="#d7d8d8"/>
<rect x="305.52" y="181.74" width="4.02" height="23.8" fill="#d7d8d8"/>
<rect x="310.04" y="181.74" width="4.02" height="23.8" fill="#d7d8d8"/>
<rect x="314.56" y="181.74" width="4.02" height="23.8" fill="#d7d8d8"/>
<rect x="319.08" y="181.74" width="4.02" height="23.8" fill="#d7d8d8"/>
<rect x="323.60" y="181.74" width="4.02" height="23.8" fill="#d7d8d8"/>
<rect x="328.12" y="181.74" width="3.85" height="23.8" fill="#a50026"/>
<rect x="7.20" y="207.13" width="4.02" height="23.8" fill="#d7d8d8"/>
<rect x="11.72" y="207.13" width="4.02" height="23.8" fill="#d7d8d8"/>
<rect x="16.24" y="207.13" width="4.02" height="23.8" fill="#d7d8d8"/>
<rect x="20.76" y="207.13" width="4.02" height="23.8" fill="#d7d8d8"/>
<rect x="25.28" y="207.13" width="4.02" height="23.8" fill="#d7d8d8"/>
<rect x="29.80" y="207.13" width="3.85" height="23.8" fill="#a50026"/>
<rect x="34.32" y="207.13" width="4.02" height="23.8" fill="#d7d8d8"/>
<rect x="38.84" y="207.13" width="4.02" height="23.8" fill="#d7d8d8"/>
<rect x="43.36" y="207.13" width="4.02" height="23.8" fill="#d7d8d8"/>
<rect x="47.88" y="207.13" width="4.02" height="23.8" fill="#d7d8d8"/>
<rect x="52.40" y="207.13" width="4.02" height="23.8" fill="#d7d8d8"/>
<rect x="56.92" y="207.13" width="4.02" height="23.8" fill="#d7d8d8"/>
<rect x="61.44" y="207.13" width="3.85" height="23.8" fill="#a50026"/>
<rect x="65.96" y="207.13" width="3.85" height="23.8" fill="#a50026"/>
<rect x="70.48" y="207.13" width="4.02" height="23.8" fill="#d7d8d8"/>
<rect x="75.00" y="207.13" width="4.02" height="23.8" fill="#d7d8d8"/>
<rect x="79.52" y="207.13" width="4.02" height="23.8" fill="#d7d8d8"/>
<rect x="84.04" y="207.13" width="4.02" height="23.8" fill="#d7d8d8"/>
<rect x="88.56" y="207.13" width="4.02" height="23.8" fill="#d7d8d8"/>
<rect x="93.08" y="207.13" width="3.85" height="23.8" fill="#a50026"/>
<rect x="97.60" y="207.13" width="4.02" height="23.8" fill="#d7d8d8"/>
<rect x="102.12" y="207.13" width="4.02" height="23.8" fill="#d7d8d8"/>
<rect x="106.64" y="207.13" width="4.02" height="23.8" fill="#d7d8d8"/>
<rect x="111.16" y="207.13" width="4.02" height="23.8" fill="#d7d8d8"/>
<rect x="115.68" y="207.13" width="4.02" height="23.8" fill="#d7d8d8"/>
<rect x="120.20" y="207.13" width="4.02" height="23.8" fill="#d7d8d8"/>
<rect x="124.72" y="207.13" width="4.02" height="23.8" fill="#d7d8d8"/>
<rect x="129.24" y="207.13" width="4.02" height="23.8" fill="#d7d8d8"/>
<rect x="133.76" y="207.13" width="4.02" height="23.8" fill="#d7d8d8"/>
<rect x="138.28" y="207.13" width="4.02" height="23.8" fill="#d7d8d8"/>
<rect x="142.80" y="207.13" width="4.02" height="23.8" fill="#d7d8d8"/>
<rect x="147.32" y="207.13" width="4.02" height="23.8" fill="#d7d8d8"/>
<rect x="151.84" y="207.13" width="4.02" height="23.8" fill="#d7d8d8"/>
<rect x="156.36" y="207.13" width="4.02" height="23.8" fill="#d7d8d8"/>
<rect x="160.88" y="207.13" width="4.02" height="23.8" fill="#d7d8d8"/>
<rect x="165.40" y="207.13" width="4.02" height="23.8" fill="#d7d8d8"/>
<rect x="169.92" y="207.13" width="4.02" height="23.8" fill="#d7d8d8"/>
<rect x="174.44" y="207.13" width="3.85" height="23.8" fill="#a50026"/>
<rect x="178.96" y="207.13" width="4.02" height="23.8" fill="#d7d8d8"/>
<rect x="183.48" y="207.13" width="3.85" height="23.8" fill="#a50026"/>
<rect x="188.00" y="207.13" width="4.02" height="23.8" fill="#d7d8d8"/>
<rect x="192.52" y="207.13" width="4.02" height="23.8" fill="#d7d8d8"/>
<rect x="197.04" y="207.13" width="4.02" height="23.8" fill="#d7d8d8"/>
<rect x="201.56" y="207.13" width="4.02" height="23.8" fill="#d7d8d8"/>
<rect x="206.08" y="207.13" width="4.02" height="23.8" fill="#d7d8d8"/>
<rect x="210.60" y="207.13" width="4.02" height="23.8" fill="#d7d8d8"/>
<rect x="215.12" y="207.13" width="4.02" height="23.8" fill="#d7d8d8"/>
<rect x="219.64" y="207.13" width="4.02" height="23.8" fill="#d7d8d8"/>
<rect x="224.16" y="207.13" width="4.02" height="23.8" fill="#d7d8d8"/>
<rect x="228.68" y="207.13" width="4.02" height="23.8" fill="#d7d8d8"/>
<rect x="233.20" y="207.13" width="4.02" height="23.8" fill="#d7d8d8"/>
<rect x="237.72" y="207.13" width="4.02" height="23.8" fill="#d7d8d8"/>
<rect x="242.24" y="207.13" width="3.85" height="23.8" fill="#a50026"/>
<rect x="246.76" y="207.13" width="3.85" height="23.8" fill="#a50026"/>
<rect x="251.28" y="207.13" width="4.02" height="23.8" fill="#d7d8d8"/>
<rect x="255.80" y="207.13" width="4.02" height="23.8" fill="#d7d8d8"/>
<rect x="260.32" y="207.13" width="4.02" height="23.8" fill="#d7d8d8"/>
<rect x="264.84" y="207.13" width="4.02" height="23.8" fill="#d7d8d8"/>
<rect x="269.36" y="207.13" width="4.02" height="23.8" fill="#d7d8d8"/>
<rect x="273.88" y="207.13" width="4.02" height="23.8" fill="#d7d8d8"/>
<rect x="278.40" y="207.13" width="4.02" height="23.8" fill="#d7d8d8"/>
<rect x="282.92" y="207.13" width="4.02" height="23.8" fill="#d7d8d8"/>
<rect x="287.44" y="207.13" width="4.02" height="23.8" fill="#d7d8d8"/>
<rect x="291.96" y="207.13" width="4.02" height="23.8" fill="#d7d8d8"/>
<rect x="296.48" y="207.13" width="4.02" height="23.8" fill="#d7d8d8"/>
<rect x="301.00" y="207.13" width="4.02" height="23.8" fill="#d7d8d8"/>
<rect x="305.52" y="207.13" width="3.85" height="23.8" fill="#a50026"/>
<rect x="310.04" y="207.13" width="4.02" height="23.8" fill="#d7d8d8"/>
<rect x="314.56" y="207.13" width="4.02" height="23.8" fill="#d7d8d8"/>
<rect x="319.08" y="207.13" width="4.02" height="23.8" fill="#d7d8d8"/>
<rect x="323.60" y="207.13" width="4.02" height="23.8" fill="#d7d8d8"/>
<rect x="328.12" y="207.13" width="4.02" height="23.8" fill="#d7d8d8"/>
<rect x="7.20" y="232.52" width="4.02" height="23.8" fill="#d7d8d8"/>
<rect x="16.24" y="232.52" width="4.02" height="23.8" fill="#d7d8d8"/>
<rect x="20.76" y="232.52" width="4.02" height="23.8" fill="#d7d8d8"/>
<rect x="25.28" y="232.52" width="4.02" height="23.8" fill="#d7d8d8"/>
<rect x="29.80" y="232.52" width="4.02" height="23.8" fill="#d7d8d8"/>
<rect x="34.32" y="232.52" width="4.02" height="23.8" fill="#d7d8d8"/>
<rect x="38.84" y="232.52" width="4.02" height="23.8" fill="#d7d8d8"/>
<rect x="43.36" y="232.52" width="4.02" height="23.8" fill="#d7d8d8"/>
<rect x="47.88" y="232.52" width="4.02" height="23.8" fill="#d7d8d8"/>
<rect x="52.40" y="232.52" width="3.85" height="23.8" fill="#a50026"/>
<rect x="56.92" y="232.52" width="4.02" height="23.8" fill="#d7d8d8"/>
<rect x="61.44" y="232.52" width="4.02" height="23.8" fill="#d7d8d8"/>
<rect x="65.96" y="232.52" width="4.02" height="23.8" fill="#d7d8d8"/>
<rect x="70.48" y="232.52" width="4.02" height="23.8" fill="#d7d8d8"/>
<rect x="75.00" y="232.52" width="4.02" height="23.8" fill="#d7d8d8"/>
<rect x="79.52" y="232.52" width="4.02" height="23.8" fill="#d7d8d8"/>
<rect x="84.04" y="232.52" width="4.02" height="23.8" fill="#d7d8d8"/>
<rect x="88.56" y="232.52" width="4.02" height="23.8" fill="#d7d8d8"/>
<rect x="93.08" y="232.52" width="4.02" height="23.8" fill="#d7d8d8"/>
<rect x="97.60" y="232.52" width="4.02" height="23.8" fill="#d7d8d8"/>
<rect x="106.64" y="232.52" width="3.85" height="23.8" fill="#a50026"/>
<rect x="111.16" y="232.52" width="3.85" height="23.8" fill="#a50026"/>
<rect x="115.68" y="232.52" width="4.02" height="23.8" fill="#d7d8d8"/>
<rect x="120.20" y="232.52" width="4.02" height="23.8" fill="#d7d8d8"/>
<rect x="124.72" y="232.52" width="4.02" height="23.8" fill="#d7d8d8"/>
<rect x="129.24" y="232.52" width="4.02" height="23.8" fill="#d7d8d8"/>
<rect x="133.76" y="232.52" width="4.02" height="23.8" fill="#d7d8d8"/>
<rect x="138.28" y="232.52" width="4.02" height="23.8" fill="#d7d8d8"/>
<rect x="142.80" y="232.52" width="4.02" height="23.8" fill="#d7d8d8"/>
<rect x="147.32" y="232.52" width="4.02" height="23.8" fill="#d7d8d8"/>
<rect x="151.84" y="232.52" width="3.85" height="23.8" fill="#a50026"/>
<rect x="156.36" y="232.52" width="4.02" height="23.8" fill="#d7d8d8"/>
<rect x="160.88" y="232.52" width="4.02" height="23.8" fill="#d7d8d8"/>
<rect x="165.40" y="232.52" width="4.02" height="23.8" fill="#d7d8d8"/>
<rect x="169.92" y="232.52" width="4.02" height="23.8" fill="#d7d8d8"/>
<rect x="174.44" y="232.52" width="4.02" height="23.8" fill="#d7d8d8"/>
<rect x="178.96" y="232.52" width="4.02" height="23.8" fill="#d7d8d8"/>
<rect x="183.48" y="232.52" width="4.02" height="23.8" fill="#d7d8d8"/>
<rect x="188.00" y="232.52" width="4.02" height="23.8" fill="#d7d8d8"/>
<rect x="192.52" y="232.52" width="4.02" height="23.8" fill="#d7d8d8"/>
<rect x="197.04" y="232.52" width="4.02" height="23.8" fill="#d7d8d8"/>
<rect x="206.08" y="232.52" width="3.85" height="23.8" fill="#a50026"/>
<rect x="210.60" y="232.52" width="4.02" height="23.8" fill="#d7d8d8"/>
<rect x="215.12" y="232.52" width="4.02" height="23.8" fill="#d7d8d8"/>
<rect x="219.64" y="232.52" width="4.02" height="23.8" fill="#d7d8d8"/>
<rect x="224.16" y="232.52" width="4.02" height="23.8" fill="#d7d8d8"/>
<rect x="228.68" y="232.52" width="3.85" height="23.8" fill="#a50026"/>
<rect x="233.20" y="232.52" width="4.02" height="23.8" fill="#d7d8d8"/>
<rect x="237.72" y="232.52" width="4.02" height="23.8" fill="#d7d8d8"/>
<rect x="242.24" y="232.52" width="4.02" height="23.8" fill="#d7d8d8"/>
<rect x="246.76" y="232.52" width="4.02" height="23.8" fill="#d7d8d8"/>
<rect x="251.28" y="232.52" width="4.02" height="23.8" fill="#d7d8d8"/>
<rect x="255.80" y="232.52" width="4.02" height="23.8" fill="#d7d8d8"/>
<rect x="260.32" y="232.52" width="4.02" height="23.8" fill="#d7d8d8"/>
<rect x="269.36" y="232.52" width="4.02" height="23.8" fill="#d7d8d8"/>
<rect x="282.92" y="232.52" width="4.02" height="23.8" fill="#d7d8d8"/>
<rect x="287.44" y="232.52" width="4.02" height="23.8" fill="#d7d8d8"/>
<rect x="291.96" y="232.52" width="4.02" height="23.8" fill="#d7d8d8"/>
<rect x="296.48" y="232.52" width="4.02" height="23.8" fill="#d7d8d8"/>
<rect x="301.00" y="232.52" width="4.02" height="23.8" fill="#d7d8d8"/>
<rect x="305.52" y="232.52" width="4.02" height="23.8" fill="#d7d8d8"/>
<rect x="310.04" y="232.52" width="4.02" height="23.8" fill="#d7d8d8"/>
<rect x="314.56" y="232.52" width="4.02" height="23.8" fill="#d7d8d8"/>
<rect x="319.08" y="232.52" width="4.02" height="23.8" fill="#d7d8d8"/>
<rect x="323.60" y="232.52" width="4.02" height="23.8" fill="#d7d8d8"/>
<rect x="328.12" y="232.52" width="4.02" height="23.8" fill="#d7d8d8"/>
</g>
<g font-family="'Liberation Sans', sans-serif" fill="#000" stroke="#000" stroke-width="0.12" style="text-rendering:geometricPrecision">
<text x="338.3" y="44.20" font-size="7.8" text-anchor="start" textLength="20" lengthAdjust="spacingAndGlyphs">NPM1</text>
<text x="399.65000000000003" y="44.20" font-size="7.8" text-anchor="start" textLength="11.9" lengthAdjust="spacingAndGlyphs">100</text>
<text x="448.65000000000003" y="44.20" font-size="7.8" text-anchor="start" textLength="11.9" lengthAdjust="spacingAndGlyphs">100</text>
<text x="338.3" y="69.50" font-size="7.8" text-anchor="start" textLength="30.7" lengthAdjust="spacingAndGlyphs">DNMT3A</text>
<text x="401.45000000000005" y="69.50" font-size="7.8" text-anchor="start" textLength="8.3" lengthAdjust="spacingAndGlyphs">38</text>
<text x="450.45000000000005" y="69.50" font-size="7.8" text-anchor="start" textLength="8.3" lengthAdjust="spacingAndGlyphs">73</text>
<text x="490.3" y="69.50" font-size="7.8" text-anchor="start" textLength="18.6" lengthAdjust="spacingAndGlyphs">0.035</text>
<text x="338.3" y="94.80" font-size="7.8" text-anchor="start" textLength="16.5" lengthAdjust="spacingAndGlyphs">TET2</text>
<text x="401.45000000000005" y="94.80" font-size="7.8" text-anchor="start" textLength="8.3" lengthAdjust="spacingAndGlyphs">32</text>
<text x="450.45000000000005" y="94.80" font-size="7.8" text-anchor="start" textLength="8.3" lengthAdjust="spacingAndGlyphs">55</text>
<text x="493.65000000000003" y="94.80" font-size="7.8" text-anchor="start" textLength="11.9" lengthAdjust="spacingAndGlyphs">n.s.</text>
<text x="338.3" y="120.10" font-size="7.8" text-anchor="start" textLength="29.8" lengthAdjust="spacingAndGlyphs">FLT3-ITD</text>
<text x="401.45000000000005" y="120.10" font-size="7.8" text-anchor="start" textLength="8.3" lengthAdjust="spacingAndGlyphs">30</text>
<text x="452.55" y="120.10" font-size="7.8" text-anchor="start" textLength="4.1" lengthAdjust="spacingAndGlyphs">0</text>
<text x="490.3" y="120.10" font-size="7.8" text-anchor="start" textLength="18.6" lengthAdjust="spacingAndGlyphs">0.029</text>
<text x="338.3" y="145.40" font-size="7.8" text-anchor="start" textLength="18.8" lengthAdjust="spacingAndGlyphs">NRAS</text>
<text x="401.45000000000005" y="145.40" font-size="7.8" text-anchor="start" textLength="8.3" lengthAdjust="spacingAndGlyphs">26</text>
<text x="452.55" y="145.40" font-size="7.8" text-anchor="start" textLength="4.1" lengthAdjust="spacingAndGlyphs">9</text>
<text x="493.65000000000003" y="145.40" font-size="7.8" text-anchor="start" textLength="11.9" lengthAdjust="spacingAndGlyphs">n.s.</text>
<text x="338.3" y="170.70" font-size="7.8" text-anchor="start" textLength="16.2" lengthAdjust="spacingAndGlyphs">IDH1</text>
<text x="401.45000000000005" y="170.70" font-size="7.8" text-anchor="start" textLength="8.3" lengthAdjust="spacingAndGlyphs">13</text>
<text x="450.45000000000005" y="170.70" font-size="7.8" text-anchor="start" textLength="8.3" lengthAdjust="spacingAndGlyphs">18</text>
<text x="493.65000000000003" y="170.70" font-size="7.8" text-anchor="start" textLength="11.9" lengthAdjust="spacingAndGlyphs">n.s.</text>
<text x="338.3" y="196.00" font-size="7.8" text-anchor="start" textLength="16.9" lengthAdjust="spacingAndGlyphs">IDH2</text>
<text x="401.45000000000005" y="196.00" font-size="7.8" text-anchor="start" textLength="8.3" lengthAdjust="spacingAndGlyphs">15</text>
<text x="452.55" y="196.00" font-size="7.8" text-anchor="start" textLength="4.1" lengthAdjust="spacingAndGlyphs">9</text>
<text x="493.65000000000003" y="196.00" font-size="7.8" text-anchor="start" textLength="11.9" lengthAdjust="spacingAndGlyphs">n.s.</text>
<text x="338.3" y="221.30" font-size="7.8" text-anchor="start" textLength="31.7" lengthAdjust="spacingAndGlyphs">FLT3-TKD</text>
<text x="401.45000000000005" y="221.30" font-size="7.8" text-anchor="start" textLength="8.3" lengthAdjust="spacingAndGlyphs">13</text>
<text x="452.55" y="221.30" font-size="7.8" text-anchor="start" textLength="4.1" lengthAdjust="spacingAndGlyphs">9</text>
<text x="493.65000000000003" y="221.30" font-size="7.8" text-anchor="start" textLength="11.9" lengthAdjust="spacingAndGlyphs">n.s.</text>
<text x="338.3" y="246.60" font-size="7.8" text-anchor="start" textLength="15.1" lengthAdjust="spacingAndGlyphs">WT1</text>
<text x="401.45000000000005" y="246.60" font-size="7.8" text-anchor="start" textLength="8.3" lengthAdjust="spacingAndGlyphs">11</text>
<text x="452.55" y="246.60" font-size="7.8" text-anchor="start" textLength="4.1" lengthAdjust="spacingAndGlyphs">0</text>
<text x="493.65000000000003" y="246.60" font-size="7.8" text-anchor="start" textLength="11.9" lengthAdjust="spacingAndGlyphs">n.s.</text>
<text x="93.1" y="17.6" font-size="7.8" text-anchor="start" textLength="20.2" lengthAdjust="spacingAndGlyphs">NPM1</text>
<text x="114.4" y="15" font-size="6.3" text-anchor="start" textLength="10" lengthAdjust="spacingAndGlyphs" stroke="none">mut</text>
<text x="294.4" y="17.6" font-size="7.8" text-anchor="start" textLength="20.2" lengthAdjust="spacingAndGlyphs">NPM1</text>
<text x="315.6" y="15" font-size="6.3" text-anchor="start" textLength="5.7" lengthAdjust="spacingAndGlyphs" stroke="none">wt</text>
<text x="390.2" y="17.9" font-size="7.8" text-anchor="start" textLength="19.9" lengthAdjust="spacingAndGlyphs">NPM1</text>
<text x="411.3" y="15" font-size="6.3" text-anchor="start" textLength="9.8" lengthAdjust="spacingAndGlyphs" stroke="none">mut</text>
<text x="400" y="28" font-size="7.5" text-anchor="start" textLength="10.6" lengthAdjust="spacingAndGlyphs">(%)</text>
<text x="441.2" y="17.8" font-size="7.8" text-anchor="start" textLength="20" lengthAdjust="spacingAndGlyphs">NPM1</text>
<text x="462" y="15" font-size="6.3" text-anchor="start" textLength="5.7" lengthAdjust="spacingAndGlyphs" stroke="none">wt</text>
<text x="448.9" y="28" font-size="7.5" text-anchor="start" textLength="10.9" lengthAdjust="spacingAndGlyphs">(%)</text>
<text x="487.3" y="20" font-size="7.8" text-anchor="start" textLength="24.5" lengthAdjust="spacingAndGlyphs">p-value</text>
<text x="14.7" y="271.6" font-size="7.8" text-anchor="start" textLength="40.1" lengthAdjust="spacingAndGlyphs">not mutated</text>
<text x="75.1" y="271.6" font-size="7.8" text-anchor="start" textLength="27.7" lengthAdjust="spacingAndGlyphs">mutated</text>
<text x="123" y="271.6" font-size="7.8" text-anchor="start" textLength="10.8" lengthAdjust="spacingAndGlyphs">n.a.</text>
</g>
<rect x="7.2" y="263.9" width="3.9" height="10.3" fill="#d7d8d8"/>
<rect x="68.2" y="263.9" width="3.6" height="10.3" fill="#a50026"/>
<rect x="115.4" y="264.1" width="4.3" height="10" fill="#fff" stroke="#111" stroke-width="0.7"/>
<rect x="430.3" y="21" width="1.1" height="230" fill="#444"/>
<rect x="477.7" y="21" width="1.1" height="230" fill="#444"/>
<rect x="0" y="0" width="520" height="1" fill="#000"/>
<rect x="0" y="0" width="1.1" height="282" fill="#000"/>
<rect x="518.8" y="0" width="1.2" height="282" fill="#000"/>
<rect x="0" y="279.8" width="520" height="2.2" fill="#000"/>
</svg>
</body></html>
